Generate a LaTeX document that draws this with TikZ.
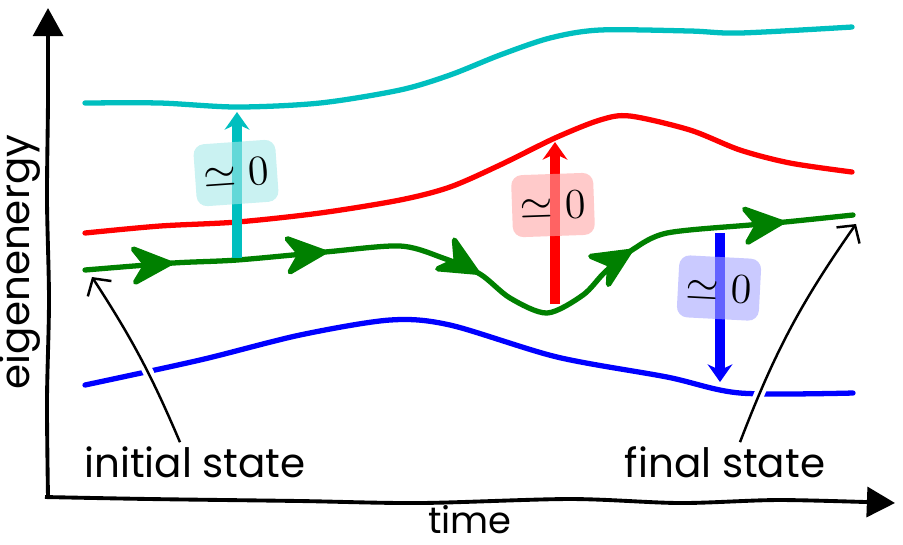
\documentclass[tikz,border=0pt]{standalone}
\usepackage{fontspec}
\usepackage{amsmath}
\usetikzlibrary{arrows.meta, decorations.markings, positioning}

\newfontfamily\handfont{Poppins}
\definecolor{levc}{rgb}{0,0.75,0.75}
\definecolor{levg}{rgb}{0,0.5,0}

\tikzset{
  axis/.style={line width=1.1pt, -{Triangle[length=8pt,width=8.5pt]}},
  level/.style={line width=1.5pt, line cap=round},
  flowtip/.tip={Stealth[length=14pt,width=13pt,inset=4.5pt,round]},
  flow/.style={level, levg, postaction={decorate}, decoration={markings,
    mark=at position 0.108 with {\arrow{flowtip}},
    mark=at position 0.298 with {\arrow{flowtip}},
    mark=at position 0.492 with {\arrow{flowtip}},
    mark=at position 0.722 with {\arrow{flowtip}},
    mark=at position 0.915 with {\arrow{flowtip}}}},
  jump/.style={line width=2.7pt, -{Stealth[length=5pt,width=7pt]}},
  tag/.style={rounded corners=3pt, minimum width=0.82cm, minimum height=0.62cm,
    fill opacity=0.6, text opacity=1, inner sep=1pt, font=\large},
  hand/.style={font=\handfont\fontsize{11.5}{13}\selectfont, inner sep=1pt},
  pointer/.style={line width=0.7pt, -{Straight Barb[length=3.5pt,width=8pt]},
    preaction={draw=white, line width=3pt, arrows=-, shorten >=10pt}}
}

\begin{document}
\begin{tikzpicture}[x=0.01cm, y=-0.01cm]
    \useasboundingbox (0,0) rectangle (903,544);

    % Axes
    \draw[axis] plot[smooth] coordinates {(48,497) (47,400) (49,300) (47,200) (48,100) (48,8)};
    \draw[axis] plot[smooth] coordinates {(45,497) (150,499) (300,501) (420,503) (570,499) (680,503) (780,500) (895,503)};
    \node[hand, inner sep=0pt, font=\handfont\fontsize{10.5}{12}\selectfont] (time) at (470,520) {time};
    \node[hand, rotate=90] (eigen) at (20,262) {eigenenergy};

    % Energy levels
    \draw[level, levc] plot[smooth] coordinates {(85,103) (160,103) (237,107) (320,103) (400,90) (450,75) (500,55) (550,38) (600,30) (690,31) (740,33) (852,27)};
    \draw[level, red] plot[smooth] coordinates {(85,233) (160,226) (237,222) (320,213) (400,200) (450,187) (500,165) (555,138) (600,120) (630,116) (690,130) (740,150) (790,163) (852,172)};
    \draw[level, blue] plot[smooth] coordinates {(85,385) (200,360) (300,335) (390,320) (450,325) (557,357) (667,377) (740,393) (853,393)};

    % Followed state
    \draw[flow] plot[smooth] coordinates {(85,270) (173,263) (237,260) (325,252) (400,246) (443,258) (480,274) (510,298) (547,313) (583,295) (605,272) (632,250) (667,233) (750,225) (785,222) (853,215)};

    % Transitions
    \coordinate (c-base) at (237,258);
    \coordinate (c-top) at (237,112);
    \coordinate (r-base) at (555,304);
    \coordinate (r-top) at (555,142);
    \coordinate (b-top) at (720,233);
    \coordinate (b-base) at (720,382);
    \draw[jump, levc] (c-base) -- (c-top);
    \draw[jump, red] (r-base) -- (r-top);
    \draw[jump, blue] (b-top) -- (b-base);

    \node[tag, fill=levc!35!white, rotate=4] (tagc) at (236,173) {$\simeq 0$};
    \node[tag, fill=red!35!white, rotate=2] (tagr) at (553,205) {$\simeq 0$};
    \node[tag, fill=blue!35!white, rotate=-3] (tagb) at (719,288) {$\simeq 0$};

    % States
    \node[hand] (initial) at (195,462) {initial state};
    \node[hand] (final) at (725,462) {final state};
    \coordinate (init-tip) at (92,277);
    \coordinate (final-tip) at (856,224);
    \draw[pointer] ([xshift=-0.15cm]initial.north) to[bend right=5] (init-tip);
    \draw[pointer] ([xshift=0.15cm]final.north) to[bend left=7] (final-tip);
\end{tikzpicture}
\end{document}
